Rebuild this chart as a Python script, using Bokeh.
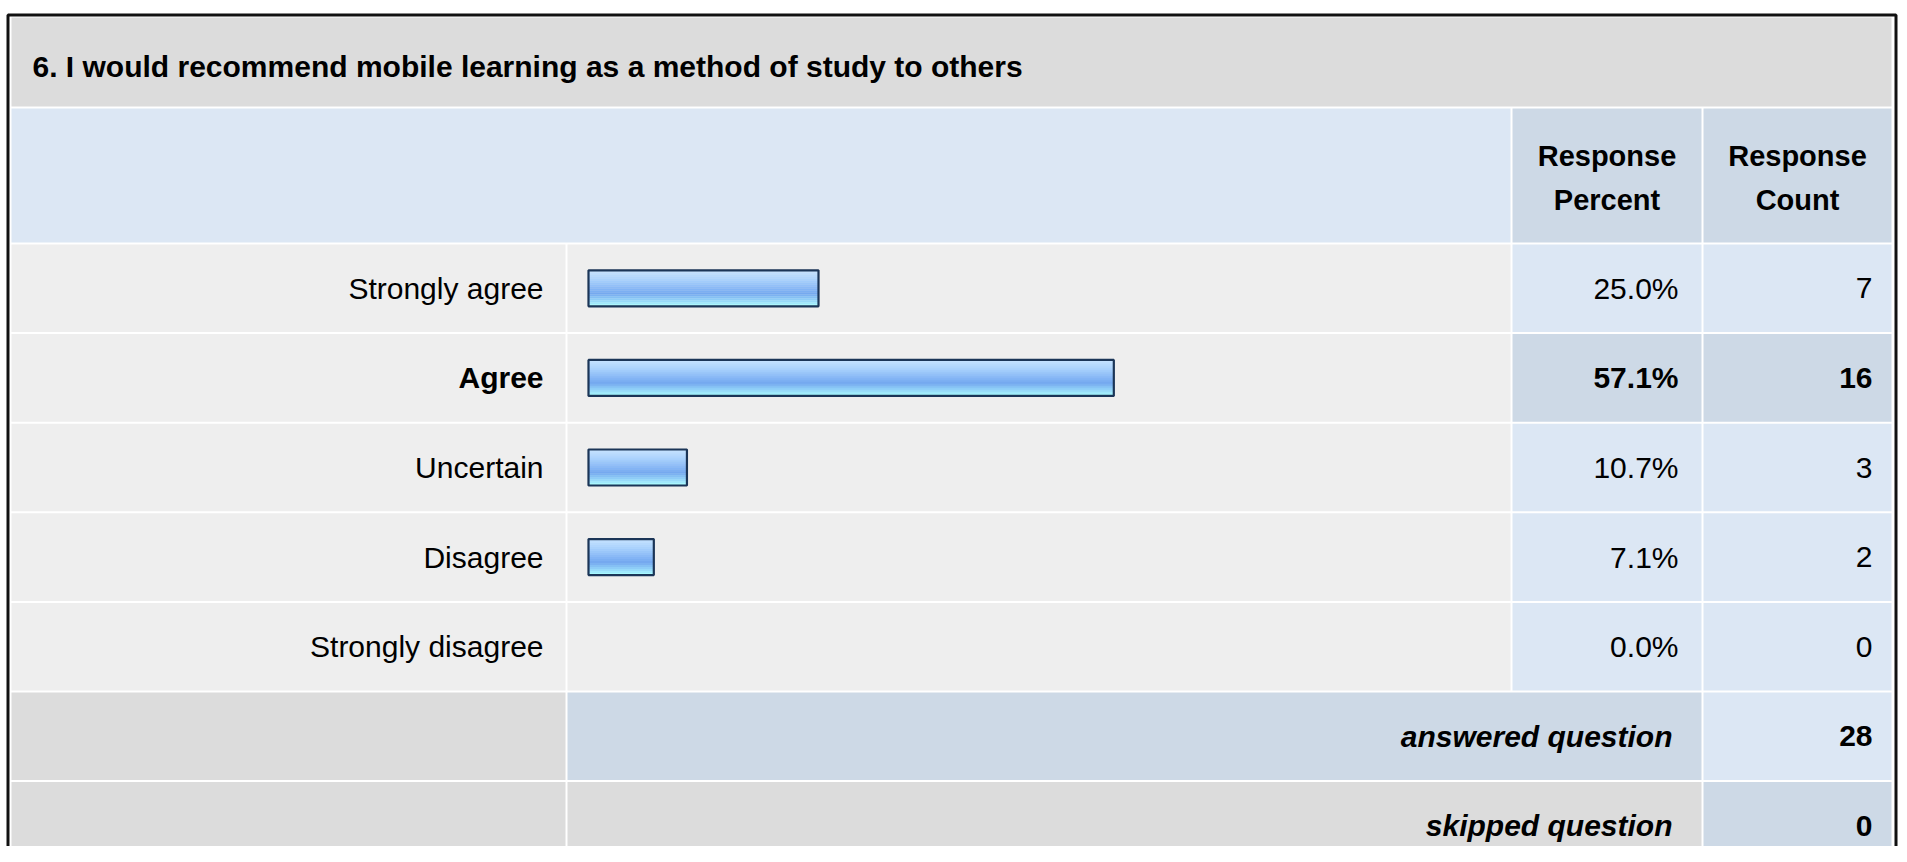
from bokeh.plotting import figure
from bokeh.models import Range1d, ColumnDataSource
from bokeh.core.properties import value
from bokeh.embed import file_html
from bokeh.resources import INLINE

# ---------------- data ----------------
title = "6. I would recommend mobile learning as a method of study to others"
categories = ["Strongly agree", "Agree", "Uncertain", "Disagree", "Strongly disagree"]
percents = [25.0, 57.1, 10.7, 7.1, 0.0]
counts = [7, 16, 3, 2, 0]
highlight = [False, True, False, False, False]
answered = 28
skipped = 0
header_pct = ["Response", "Percent"]
header_cnt = ["Response", "Count"]

# ---------------- layout (picture pixel coordinates) ----------------
W, H = 1899, 846
FONT = value("Liberation Sans")
FS = "30px"

p = figure(width=W, height=H, x_range=Range1d(0, W), y_range=Range1d(H, 0),
           output_backend="svg", toolbar_location=None, min_border=0,
           x_axis_location=None, y_axis_location=None)
p.grid.visible = False
p.outline_line_color = None
p.background_fill_color = "white"
p.border_fill_color = "white"

# percent scale for the bars: 0% -> x=588, 100% -> x=1508
X0, PXPCT = 588.0, 9.2
p.extra_x_ranges = {"pct": Range1d((0 - X0) / PXPCT, (W - X0) / PXPCT)}

# columns
C_LAB = (11, 565)
C_BAR = (567, 1510)
C_PCT = (1512, 1701)
C_CNT = (1703, 1891)
ROW0, PITCH, RH = 244.0, 89.6, 87.6

GRAY = "#dcdcdc"
LGRAY = "#eeeeee"
LBLUE = "#dce7f4"
DBLUE = "#cdd9e6"

cells = dict(left=[], right=[], top=[], bottom=[], color=[])

def cell(c, t, b, col):
    cells["left"].append(c[0]); cells["right"].append(c[1])
    cells["top"].append(t); cells["bottom"].append(b); cells["color"].append(col)

# title row
cell((11, 1891), 17, 106, GRAY)
# header row
cell((11, 1510), 108, 242, LBLUE)
cell(C_PCT, 108, 242, DBLUE)
cell(C_CNT, 108, 242, DBLUE)

row_y = []
for i, cat in enumerate(categories):
    t = ROW0 + i * PITCH
    b = t + RH
    row_y.append((t + b) / 2)
    cell(C_LAB, t, b, LGRAY)
    cell(C_BAR, t, b, LGRAY)
    cell(C_PCT, t, b, DBLUE if highlight[i] else LBLUE)
    cell(C_CNT, t, b, DBLUE if highlight[i] else LBLUE)

n = len(categories)
t_ans = ROW0 + n * PITCH
t_skp = ROW0 + (n + 1) * PITCH
y_ans = t_ans + RH / 2
y_skp = t_skp + RH / 2
cell(C_LAB, t_ans, t_ans + RH, GRAY)
cell((C_BAR[0], C_PCT[1]), t_ans, t_ans + RH, DBLUE)
cell(C_CNT, t_ans, t_ans + RH, LBLUE)
cell(C_LAB, t_skp, t_skp + RH, GRAY)
cell((C_BAR[0], C_PCT[1]), t_skp, t_skp + RH, GRAY)
cell(C_CNT, t_skp, t_skp + RH, DBLUE)

p.quad(left="left", right="right", top="top", bottom="bottom", fill_color="color",
       line_color=None, source=ColumnDataSource(cells))

# outer black frame
p.quad(left=[7.5], right=[1895.5], top=[14.5], bottom=[2000], fill_color=None,
       line_color="#111111", line_width=3)

# ---------------- bars with vertical gradient ----------------
bar_src = ColumnDataSource(dict(
    y=[row_y[i] for i in range(n) if percents[i] > 0],
    pct=[percents[i] for i in range(n) if percents[i] > 0],
))

stops = [(0.0, (200, 228, 255)), (0.25, (170, 210, 252)), (0.55, (128, 178, 244)),
         (0.65, (116, 168, 238)), (0.85, (150, 215, 250)), (1.0, (170, 255, 255))]

def grad(f):
    for (f0, c0), (f1, c1) in zip(stops[:-1], stops[1:]):
        if f0 <= f <= f1:
            k = (f - f0) / (f1 - f0) if f1 > f0 else 0
            r, g, b = (round(c0[j] + (c1[j] - c0[j]) * k) for j in range(3))
            return "#%02x%02x%02x" % (r, g, b)
    return "#%02x%02x%02x" % stops[-1][1]

BAR_H = 36.0
NS = 18
sh = BAR_H / NS
for s in range(NS):
    off = -BAR_H / 2 + sh * (s + 0.5)
    col = grad((s + 0.5) / NS)
    src = ColumnDataSource(dict(y=[v + off for v in bar_src.data["y"]], pct=bar_src.data["pct"]))
    p.hbar(y="y", left=0, right="pct", height=sh + 0.3, fill_color=col, line_color=None,
           x_range_name="pct", source=src)
p.hbar(y="y", left=0, right="pct", height=BAR_H, fill_color=None, line_color="#1b3557",
       line_width=2.2, x_range_name="pct", source=bar_src)

# ---------------- texts ----------------
p.text(x=[32], y=[66], text=[title], text_font=FONT, text_font_size="30px",
       text_font_style="bold", text_baseline="middle", text_color="#000000")

for col, lines in ((C_PCT, header_pct), (C_CNT, header_cnt)):
    cx = (col[0] + col[1]) / 2
    p.text(x=[cx, cx], y=[155, 199], text=lines, text_font=FONT, text_font_size="29px",
           text_font_style="bold", text_align="center", text_baseline="middle", text_color="#000000")

for i in range(n):
    style = "bold" if highlight[i] else "normal"
    p.text(x=[543], y=[row_y[i]], text=[categories[i]], text_font=FONT, text_font_size=FS,
           text_font_style=style, text_align="right", text_baseline="middle", text_color="#000000")
    p.text(x=[1678], y=[row_y[i]], text=["%.1f%%" % percents[i]], text_font=FONT, text_font_size=FS,
           text_font_style=style, text_align="right", text_baseline="middle", text_color="#000000")
    p.text(x=[1872], y=[row_y[i]], text=[str(counts[i])], text_font=FONT, text_font_size=FS,
           text_font_style=style, text_align="right", text_baseline="middle", text_color="#000000")

p.text(x=[1672, 1672], y=[y_ans, y_skp], text=["answered question", "skipped question"],
       text_font=FONT, text_font_size=FS, text_font_style="bold italic", text_align="right",
       text_baseline="middle", text_color="#000000")
p.text(x=[1872, 1872], y=[y_ans, y_skp], text=[str(answered), str(skipped)],
       text_font=FONT, text_font_size=FS, text_font_style="bold", text_align="right",
       text_baseline="middle", text_color="#000000")

open("out.html", "w").write(file_html(p, INLINE))
